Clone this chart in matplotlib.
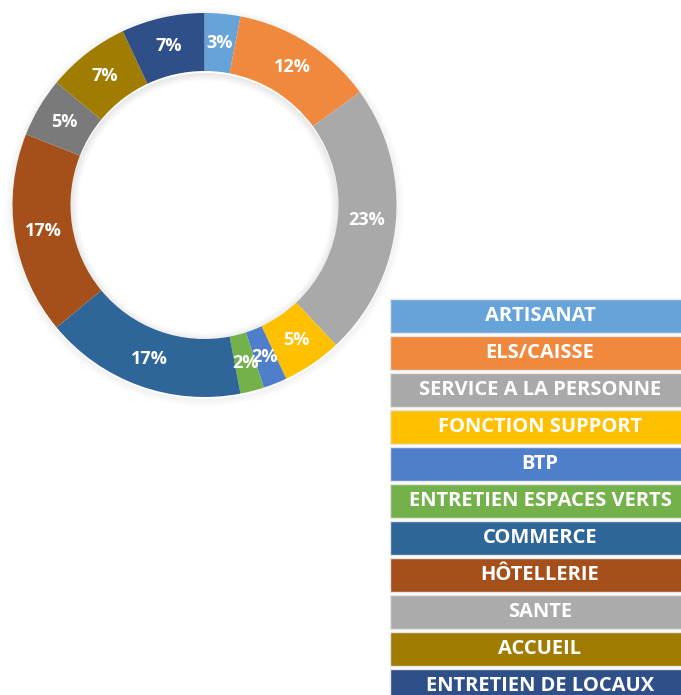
import matplotlib
matplotlib.use("Agg")
import matplotlib.pyplot as plt
from matplotlib.patches import Rectangle, Wedge

# données (sens horaire depuis le haut)
categories = ["ARTISANAT", "ELS/CAISSE", "SERVICE A LA PERSONNE", "FONCTION SUPPORT",
              "BTP", "ENTRETIEN ESPACES VERTS", "COMMERCE", "HÔTELLERIE",
              "SANTE", "ACCUEIL", "ENTRETIEN DE LOCAUX"]
values = [3, 12, 23, 5, 2, 2, 17, 17, 5, 7, 7]
colors = ["#66a3d9", "#f0883e", "#a9a9a9", "#ffc000", "#4f7fcb", "#74b14b",
          "#2e6699", "#a5501a", "#7a7a7a", "#a07c00", "#2e4f87"]
legend_colors = colors[:8] + ["#ababab"] + colors[9:]

W, H = 681, 695
fig = plt.figure(figsize=(W / 100, H / 100), dpi=100)
ax = fig.add_axes([0, 0, 1, 1])

cx, cy, R, ring = 204.5, H - 205, 192, 58

# ombre légère autour de l'anneau
for i in range(1, 9):
    ax.add_patch(Wedge((cx, cy - 2), R + i, 0, 360, width=1.2,
                       facecolor="black", alpha=0.05 * (1 - i / 9), lw=0))
    ax.add_patch(Wedge((cx, cy - 2), R - ring, 0, 360, width=i,
                       facecolor="black", alpha=0.012, lw=0))

wedges, texts, autotexts = ax.pie(
    values, colors=colors, startangle=90, counterclock=False,
    center=(cx, cy), radius=R, frame=True,
    wedgeprops=dict(width=ring, linewidth=0),
    autopct=lambda p: f"{p:.0f}%", pctdistance=0.85,
    textprops=dict(color="white", fontsize=13, fontweight="bold", family="Open Sans"))

# légende en blocs colorés
x0, top0, pitch, bh = 390, 299, 37, 34
for i, (lab, col) in enumerate(zip(categories, legend_colors)):
    top = top0 + i * pitch
    ax.add_patch(Rectangle((x0, H - top - bh), W - x0 + 10, bh, facecolor=col,
                           edgecolor="#e6e6e6", lw=1))
    ax.text(540, H - top - bh / 2, lab, color="white",
            fontsize=14.5, fontweight="bold", family="Open Sans",
            ha="center", va="center")

ax.set_xlim(0, W)
ax.set_ylim(0, H)
ax.set_aspect("equal")
ax.axis("off")

fig.savefig("out.png", dpi=100)
